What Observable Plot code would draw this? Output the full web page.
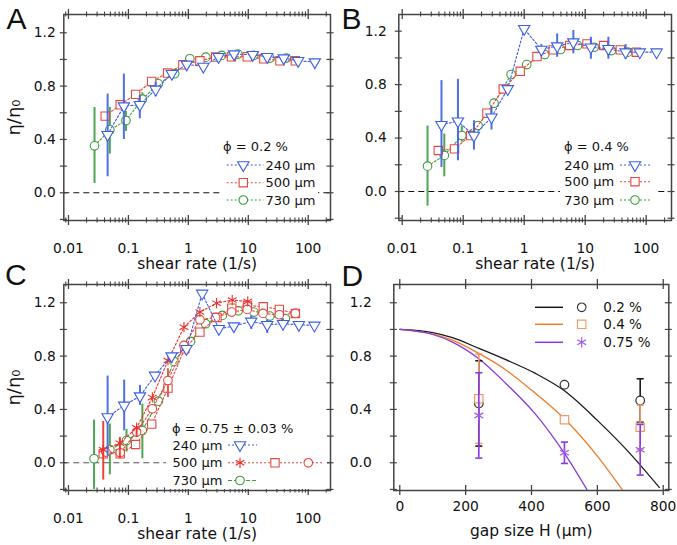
<!DOCTYPE html>
<html><head><meta charset="utf-8">
<script src="https://cdn.jsdelivr.net/npm/d3@7"></script>
<script src="https://cdn.jsdelivr.net/npm/@observablehq/plot@0.6"></script>
<style>
html,body{margin:0;padding:0;background:#fff;}
#root{position:relative;width:677px;height:545px;overflow:hidden;background:#fff;}
</style></head><body><div id="root"></div>
<script>
// ================= DATA =================
// Panels A-C: [shear rate (1/s), eta/eta0]; error bars: [shear rate, low, high]
const A_240 = [[0.045,0.435],[0.084,0.65],[0.155,0.66],[0.285,0.775],[0.53,0.893],[0.94,0.963],[1.78,0.947],[3.2,1.02],[5.8,1.04],[11.9,1.035],[20.7,1.02],[39,1.01],[68,0.99],[129,0.98]];
const A_240_err = [[0.045,0.12,0.74],[0.084,0.40,0.89],[0.155,0.555,0.73],[0.285,0.72,0.83]];
const A_500 = [[0.041,0.575],[0.073,0.66],[0.132,0.738],[0.244,0.835],[0.45,0.898],[0.81,0.96],[1.56,0.99],[2.85,1.018],[5.25,1.02],[9.6,1.02],[18.2,1.005],[33.8,0.99],[61,0.99]];
const A_730 = [[0.0272,0.352],[0.049,0.472],[0.091,0.542],[0.171,0.702],[0.316,0.817],[0.59,0.893],[1.06,1.005],[1.96,1.017],[3.6,1.03],[6.7,1.04],[12.4,1.03],[23,1.01],[43,1.01]];
const A_730_err = [[0.0272,0.07,0.64],[0.049,0.29,0.64],[0.091,0.46,0.61],[0.171,0.66,0.75]];

const B_240 = [[0.044,0.50],[0.082,0.526],[0.150,0.419],[0.291,0.556],[0.537,0.768],[1.0,1.218],[1.91,1.063],[3.47,1.088],[6.4,1.118],[12.4,1.08],[24,1.068],[46,1.043],[78.5,1.043],[148,1.043]];
const B_240_err = [[0.044,0.18,0.83],[0.082,0.23,0.84],[0.150,0.31,0.53],[0.291,0.46,0.63],[1.91,1.01,1.10],[3.47,1.005,1.18],[6.4,1.03,1.205],[12.4,0.99,1.155],[24,0.99,1.155],[46,0.99,1.10]];
const B_500 = [[0.039,0.307],[0.072,0.319],[0.132,0.419],[0.245,0.586],[0.454,0.768],[0.86,0.90],[1.62,1.01],[2.98,1.06],[5.57,1.093],[10.7,1.105],[20,1.093],[37.6,1.06],[69,1.043]];
const B_730 = [[0.026,0.19],[0.049,0.27],[0.095,0.419],[0.175,0.494],[0.32,0.661],[0.61,0.876],[1.1,0.95],[2.17,1.025],[3.95,1.063],[7.5,1.093],[14,1.08],[27,1.055],[50,1.043]];
const B_730_err = [[0.026,-0.11,0.49],[0.049,0.11,0.43],[0.095,0.37,0.49]];

const C_240 = [[0.045,0.343],[0.085,0.43],[0.156,0.50],[0.278,0.655],[0.525,0.80],[0.93,0.855],[1.7,1.27],[3.24,1.005],[5.75,1.025],[11.2,1.06],[20.7,1.035],[38,1.043],[70,1.035],[127,1.03]];
const C_240_err = [[0.045,0.05,0.65],[0.085,0.24,0.62],[0.156,0.43,0.58],[11.2,1.0,1.1],[20.7,0.97,1.07],[38,0.99,1.08]];
const C_500_star = [[0.038,0.0975],[0.072,0.147],[0.137,0.262],[0.251,0.49],[0.457,0.767],[0.845,1.017],[1.56,1.13],[2.96,1.197],[5.4,1.22],[9.8,1.21]];
const C_500_star_err = [[0.038,-0.13,0.31],[0.072,0.03,0.19],[0.137,0.19,0.27]];
const C_500_square = [[0.038,0.0675],[0.073,0.0675],[0.132,0.137],[0.245,0.29],[0.457,0.56],[0.87,0.855],[1.56,0.98],[3.0,1.09],[5.3,1.16],[9.7,1.18],[17.8,1.17],[33,1.15],[61,1.12]];
const C_500_circle = [[0.042,0.08],[0.073,0.075],[0.137,0.23],[0.25,0.405],[0.457,0.617],[0.845,0.88],[1.56,1.073],[2.85,1.09],[5.27,1.13],[9.6,1.15],[17.6,1.12],[33,1.11],[61,1.12]];
const C_500_circle_err = [[0.457,0.49,0.705]];
const C_730 = [[0.0267,0.03],[0.049,0.0975],[0.093,0.167],[0.171,0.242],[0.316,0.462],[0.575,0.76],[1.09,0.91],[1.94,1.043],[3.69,1.105],[6.8,1.14],[12.4,1.13],[22.9,1.1],[41.6,1.08]];
const C_730_err = [[0.0267,-0.2,0.32],[0.049,-0.09,0.29],[0.093,0.08,0.25],[0.171,0.03,0.44]];

// Panel D: gap size H (µm)
const D_H = [240, 500, 730];
const D_phi02 = [0.445, 0.585, 0.467];
const D_phi02_err = [0.32, 0, 0.163];
const D_phi04 = [0.48, 0.3225, 0.267];
const D_phi04_err = [0.335, 0, 0.165];
const D_phi075 = [0.355, 0.075, 0.0975];
const D_phi075_err = [0.32, 0.08, 0.19];
// model curves: [H, eta/eta0]
const D_curve02 = [[0,1],[100,0.976],[160,0.938],[240,0.858],[320,0.775],[412,0.67],[500,0.54],[600,0.318],[700,0.067],[788,-0.185]];
const D_curve04 = [[0,1],[100,0.965],[160,0.92],[240,0.82],[320,0.70],[400,0.545],[500,0.33],[600,0.05],[675,-0.2]];
const D_curve075 = [[0,1],[100,0.962],[160,0.905],[240,0.78],[320,0.60],[410,0.37],[500,0.07],[568,-0.2]];

// tick labels
const logTickLabels = [0.01, 0.1, 1, 10, 100];
const etaTickLabels = [0, 0.4, 0.8, 1.2];
const etaTicks = [-0.2, 0, 0.2, 0.4, 0.6, 0.8, 1.0, 1.2];
const gapTickLabels = [0, 200, 400, 600, 800];

// ================= DRAWING =================
const FONT = "'DejaVu Sans', sans-serif";
const AX = "#444";
const BLUE = "#3b5fe2", RED = "#e8473f", RED2 = "#ec2f2a", GREEN = "#3b9c3d";
const BLACK = "#1a1a1a", ORANGE = "#f07a28", ORANGE_L = "#f29a66", PURPLE = "#8a38e2", PURPLE_L = "#9d55ee";

const downTri = {draw(ctx, size) {
  const y = -Math.sqrt(size / (Math.sqrt(3) * 3)), s3 = Math.sqrt(3);
  ctx.moveTo(0, -2 * y); ctx.lineTo(-s3 * y, y); ctx.lineTo(s3 * y, y); ctx.closePath();
}};
const capSym = {draw(ctx, size) { const w = Math.sqrt(size); ctx.moveTo(-w / 2, 0); ctx.lineTo(w / 2, 0); }};
const SYM = {
  tri: {symbol: downTri, r: 4.2, d3: downTri},
  sq: {symbol: "square", r: 4.7, d3: d3.symbolSquare},
  circ: {symbol: "circle", r: 4.3, d3: d3.symbolCircle},
  ast: {symbol: "asterisk", r: 4.8, d3: d3.symbolAsterisk}
};

function logTicks(lo, hi) {
  const major = [], minor = [];
  for (let e = Math.floor(lo); e <= Math.ceil(hi); e++) {
    for (let k = 1; k <= 9; k++) {
      const v = +(k * Math.pow(10, e)).toPrecision(6), l = Math.log10(v);
      if (l < lo + 0.03 || l > hi - 0.03) continue;
      (k === 1 ? major : minor).push(v);
    }
  }
  return {major, minor};
}

function series(pts, errs, color, sym, dash = "2,2") {
  return [
    Plot.line(pts, {x: d => d[0], y: d => d[1], stroke: color, strokeWidth: 1.1, strokeDasharray: dash}),
    errs ? Plot.ruleX(errs, {x: d => d[0], y1: d => d[1], y2: d => d[2], stroke: color, strokeWidth: 2, strokeOpacity: 0.9}) : null,
    Plot.dot(pts, {x: d => d[0], y: d => d[1], symbol: sym.symbol, r: sym.r, stroke: color, fill: "white", strokeWidth: 1.1})
  ];
}

function panel(o) {
  const fw = o.W - o.ml - o.mr, fh = o.H - o.mt - o.mb;
  const tx = (vals, len, w) => [
    Plot.tickX(vals, {x: d => d, insetTop: fh - len, insetBottom: -len, stroke: AX, strokeWidth: w}),
    Plot.tickX(vals, {x: d => d, insetTop: -len, insetBottom: fh - len, stroke: AX, strokeWidth: w})];
  const ty = (vals, len, w) => [
    Plot.tickY(vals, {y: d => d, insetLeft: -len, insetRight: fw - len, stroke: AX, strokeWidth: w}),
    Plot.tickY(vals, {y: d => d, insetLeft: fw - len, insetRight: -len, stroke: AX, strokeWidth: w})];
  const marks = [
    o.zero ? Plot.ruleY([0], {stroke: o.zero, strokeDasharray: "6,4", strokeWidth: 1.1}) : null,
    ...o.marks,
    Plot.frame({stroke: AX, strokeWidth: 1.5}),
    ...tx(o.xMajor, 5, 1.3), ...(o.xMinor ? tx(o.xMinor, 2.6, 1.1) : []),
    ...ty(etaTicks, 3.5, 1.2),
    Plot.axisX({ticks: o.xLabels, tickSize: 0, tickPadding: o.xPad, tickFormat: o.xFmt, label: null, fontSize: 13.8}),
    Plot.axisY({ticks: etaTickLabels, tickSize: 0, tickPadding: o.yPad, tickFormat: d => d.toFixed(1), label: null, fontSize: 13.8}),
    Plot.text([o.xTitle], {frameAnchor: "bottom", dy: o.xTitleDy, text: d => d, fontSize: 15.5}),
    o.yTitle ? Plot.text([o.yTitle], {frameAnchor: "left", dx: -50, rotate: -90, text: d => d, fontSize: 18, textAnchor: "middle"}) : null
  ].flat(Infinity).filter(Boolean);
  return Plot.plot({
    width: o.W, height: o.H, marginLeft: o.ml, marginRight: o.mr, marginTop: o.mt, marginBottom: o.mb,
    style: {fontFamily: FONT, fontSize: "14px", background: "transparent", overflow: "visible", color: "#111"},
    x: o.x, y: o.y, marks
  });
}

function legend(svg, ox, oy, box, items) {
  const g = d3.select(svg).append("g").attr("font-family", FONT).attr("font-size", 13).attr("fill", "#111").attr("text-anchor", "start");
  if (box) g.append("rect").attr("x", box[0] - ox).attr("y", box[1] - oy).attr("width", box[2] - box[0]).attr("height", box[3] - box[1]).attr("fill", "white");
  for (const it of items) {
    if (it.text) g.append("text").attr("x", it.x - ox).attr("y", it.y - oy).attr("dy", "0.35em").attr("text-anchor", "start").attr("font-size", it.size || 13).text(it.text);
    if (it.line) g.append("line").attr("x1", it.line[0] - ox).attr("x2", it.line[1] - ox).attr("y1", it.y - oy).attr("y2", it.y - oy)
      .attr("stroke", it.color).attr("stroke-width", it.w || 1.1).attr("stroke-dasharray", it.dash || null);
    if (it.sym) g.append("path").attr("d", d3.symbol(it.sym.d3, Math.PI * it.sym.r * it.sym.r)())
      .attr("transform", `translate(${it.x - ox},${it.y - oy})`).attr("fill", it.sym === SYM.ast ? "none" : "white").attr("stroke", it.color).attr("stroke-width", 1.1);
  }
}

const root = document.getElementById("root");
function place(el, left, top) { el.style.position = "absolute"; el.style.left = left + "px"; el.style.top = top + "px"; root.appendChild(el); }

const fmtLog = d => String(d);
const LA = [-2.078, 2.372], LB = [-2.056, 2.415];
const tA = logTicks(...LA), tB = logTicks(...LB);

// ---- Panel A ----
const svgA = panel({W: 340, H: 275, ml: 63.3, mr: 10, mt: 14, mb: 55,
  x: {type: "log", domain: [10 ** LA[0], 10 ** LA[1]]}, y: {domain: [-0.208, 1.337]},
  xMajor: tA.major, xMinor: tA.minor, xLabels: logTickLabels, xFmt: fmtLog, xPad: 22.5, yPad: 8, xTitleDy: 48.5,
  xTitle: "shear rate (1/s)", yTitle: "η/η₀", zero: "#111",
  marks: [series(A_730, A_730_err, GREEN, SYM.circ), series(A_500, null, RED, SYM.sq), series(A_240, A_240_err, BLUE, SYM.tri)]});
place(svgA, 0, 0);
legend(svgA, 0, 0, [220, 137, 318, 208], [
  {text: "ϕ = 0.2 %", x: 223, y: 146.7},
  {line: [226.7, 263.3], y: 165, color: BLUE, dash: "2,2"}, {sym: SYM.tri, x: 243.3, y: 165, color: BLUE}, {text: "240 µm", x: 265.5, y: 165},
  {line: [226.7, 263.3], y: 182.7, color: RED, dash: "2,2"}, {sym: SYM.sq, x: 243.3, y: 182.7, color: RED}, {text: "500 µm", x: 265.5, y: 182.7},
  {line: [226.7, 263.3], y: 200, color: GREEN, dash: "2,2"}, {sym: SYM.circ, x: 243.3, y: 200, color: GREEN}, {text: "730 µm", x: 265.5, y: 200}
]);

// ---- Panel B ----
const svgB = panel({W: 337, H: 275, ml: 58.3, mr: 6, mt: 14, mb: 55,
  x: {type: "log", domain: [10 ** LB[0], 10 ** LB[1]]}, y: {domain: [-0.217, 1.325]},
  xMajor: tB.major, xMinor: tB.minor, xLabels: logTickLabels, xFmt: fmtLog, xPad: 22.5, yPad: 12, xTitleDy: 48.5,
  xTitle: "shear rate (1/s)", yTitle: null, zero: "#111",
  marks: [series(B_730, B_730_err, GREEN, SYM.circ), series(B_500, null, RED, SYM.sq), series(B_240, B_240_err, BLUE, SYM.tri)]});
place(svgB, 340, 0);
legend(svgB, 340, 0, [560, 137, 656, 208], [
  {text: "ϕ = 0.4 %", x: 564, y: 146.7},
  {text: "240 µm", x: 564.3, y: 165}, {line: [620, 650], y: 165, color: BLUE, dash: "2,2"}, {sym: SYM.tri, x: 635, y: 165, color: BLUE},
  {text: "500 µm", x: 564.3, y: 181.7}, {line: [620, 650], y: 181.7, color: RED, dash: "2,2"}, {sym: SYM.sq, x: 635, y: 181.7, color: RED},
  {text: "730 µm", x: 564.3, y: 200}, {line: [620, 650], y: 200, color: GREEN, dash: "2,2"}, {sym: SYM.circ, x: 635, y: 200, color: GREEN}
]);

// ---- Panel C ----
const svgC = panel({W: 340, H: 275, ml: 63.3, mr: 10, mt: 14, mb: 55,
  x: {type: "log", domain: [10 ** LA[0], 10 ** LA[1]]}, y: {domain: [-0.208, 1.337]},
  xMajor: tA.major, xMinor: tA.minor, xLabels: logTickLabels, xFmt: fmtLog, xPad: 22.5, yPad: 8, xTitleDy: 48,
  xTitle: "shear rate (1/s)", yTitle: "η/η₀", zero: "#555",
  marks: [series(C_730, C_730_err, GREEN, SYM.circ, "4,2"), series(C_500_square, null, RED, SYM.sq),
    series(C_500_circle, C_500_circle_err, RED, SYM.circ), series(C_500_star, C_500_star_err, RED2, SYM.ast),
    series(C_240, C_240_err, BLUE, SYM.tri)]});
place(svgC, 0, 270);
legend(svgC, 0, 270, [166, 418, 327, 489], [
  {text: "ϕ = 0.75 ± 0.03 %", x: 172, y: 428.3},
  {text: "240 µm", x: 172.5, y: 445}, {line: [228, 257], y: 445, color: BLUE, dash: "2,2"}, {sym: SYM.tri, x: 240, y: 445, color: BLUE},
  {text: "500 µm", x: 172.5, y: 462.8}, {line: [228, 324], y: 462.8, color: RED, dash: "2,2"}, {sym: SYM.ast, x: 240, y: 462.8, color: RED2},
  {sym: SYM.sq, x: 275, y: 462.8, color: RED}, {sym: SYM.circ, x: 308.3, y: 462.8, color: RED},
  {text: "730 µm", x: 172.5, y: 480.5}, {line: [228, 257], y: 480.5, color: GREEN, dash: "4,2"}, {sym: SYM.circ, x: 240, y: 480.5, color: GREEN}
]);

// ---- Panel D ----
function dRows(vals, errs) { return D_H.map((h, i) => ({h, v: vals[i], e: errs[i]})); }
function dSeries(vals, errs, color, markColor, sym) {
  const rows = dRows(vals, errs), er = rows.filter(r => r.e > 0);
  return [
    Plot.ruleX(er, {x: "h", y1: r => r.v - r.e, y2: r => r.v + r.e, stroke: color, strokeWidth: 1.6}),
    Plot.dot(er, {x: "h", y: r => r.v - r.e, symbol: capSym, r: 4, stroke: color, strokeWidth: 1.6}),
    Plot.dot(er, {x: "h", y: r => r.v + r.e, symbol: capSym, r: 4, stroke: color, strokeWidth: 1.6}),
    Plot.dot(rows, {x: "h", y: "v", symbol: sym.symbol, r: sym.r, stroke: markColor, fill: sym === SYM.ast ? "none" : "white", strokeWidth: 1.2})
  ];
}
const svgD = panel({W: 337, H: 275, ml: 53.3, mr: 8.7, mt: 14, mb: 55,
  x: {domain: [-18.2, 816.9]}, y: {domain: [-0.208, 1.337]},
  xMajor: gapTickLabels, xMinor: null, xLabels: gapTickLabels, xFmt: d => String(d), xPad: 11, yPad: 22, xTitleDy: 45.5,
  xTitle: "gap size H (µm)", yTitle: null, zero: null,
  marks: [
    Plot.line(D_curve02, {x: d => d[0], y: d => d[1], stroke: BLACK, strokeWidth: 1.3, curve: "monotone-x"}),
    Plot.line(D_curve04, {x: d => d[0], y: d => d[1], stroke: ORANGE, strokeWidth: 1.3, curve: "monotone-x"}),
    Plot.line(D_curve075, {x: d => d[0], y: d => d[1], stroke: PURPLE, strokeWidth: 1.3, curve: "monotone-x"}),
    dSeries(D_phi02, D_phi02_err, BLACK, "#333", SYM.circ),
    dSeries(D_phi04, D_phi04_err, ORANGE_L, ORANGE_L, SYM.sq),
    dSeries(D_phi075, D_phi075_err, PURPLE, PURPLE_L, SYM.ast)
  ]});
place(svgD, 340, 270);
legend(svgD, 340, 270, null, [
  {line: [535, 563], y: 307.3, color: BLACK, w: 1.5}, {sym: SYM.circ, x: 581.7, y: 307.3, color: "#333"}, {text: "0.2 %", x: 603.3, y: 307.3, size: 13.5},
  {line: [535, 563], y: 324.3, color: ORANGE, w: 1.5}, {sym: SYM.sq, x: 581.7, y: 324.3, color: ORANGE_L}, {text: "0.4 %", x: 603.3, y: 324.3, size: 13.5},
  {line: [535, 563], y: 342.3, color: PURPLE, w: 1.5}, {sym: SYM.ast, x: 581.7, y: 342.3, color: PURPLE_L}, {text: "0.75 %", x: 603.3, y: 342.3, size: 13.5}
]);

// ---- panel letters ----
const ov = d3.create("svg").attr("width", 677).attr("height", 545).style("pointer-events", "none");
const letters = [["A", 6.5, 29], ["B", 341.5, 29], ["C", 5, 285], ["D", 341.5, 286]];
for (const [t, x, y] of letters) ov.append("text").attr("x", x).attr("y", y).attr("font-family", "'Liberation Sans', Arial, sans-serif").attr("font-size", 30).attr("fill", "#111").text(t);
place(ov.node(), 0, 0);
</script></body></html>
